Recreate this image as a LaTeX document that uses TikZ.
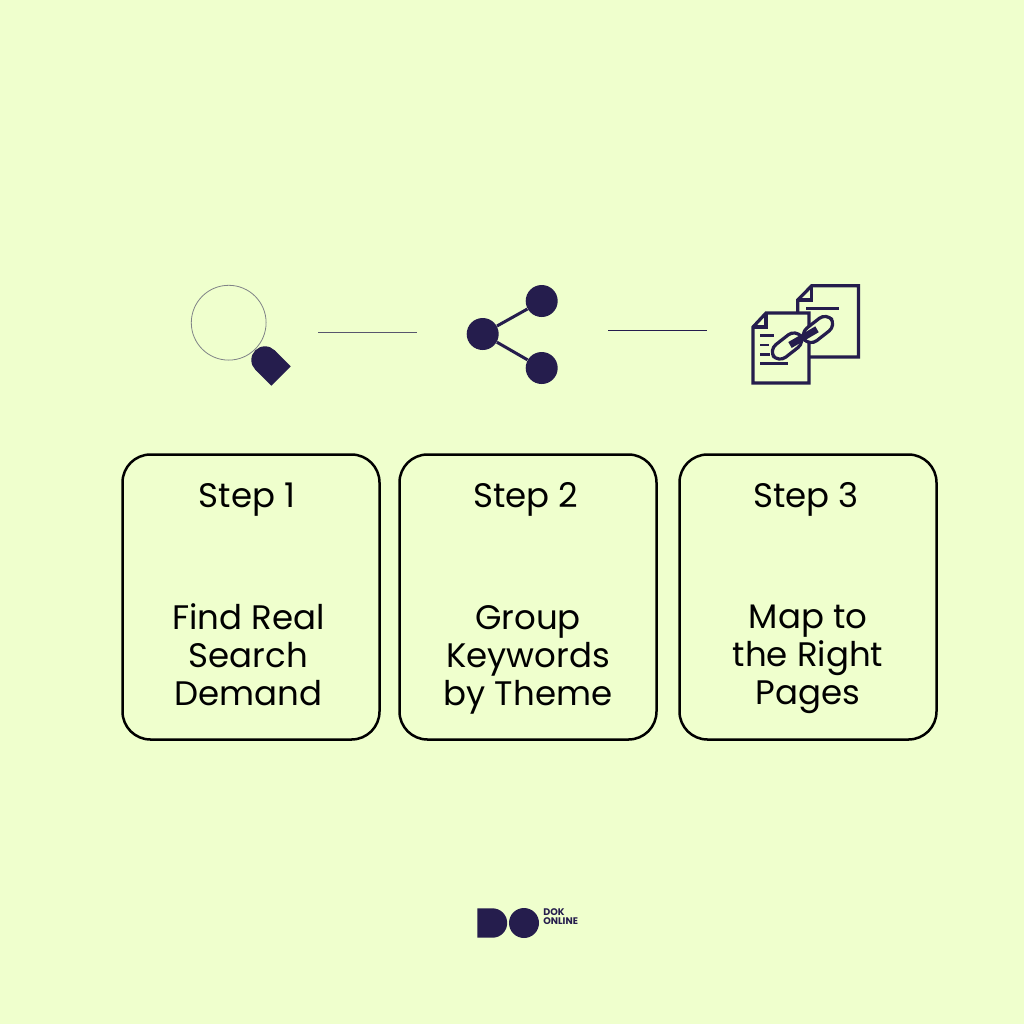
\documentclass[tikz,border=0pt]{standalone}
\usepackage{fontspec}
\setmainfont{Poppins}
\definecolor{bgc}{HTML}{EFFFCD}
\definecolor{ink}{HTML}{251D4D}
\tikzset{
  cardbox/.style={draw=black,line width=1.25pt,rounded corners=14pt,minimum width=128.5pt,minimum height=142.5pt,inner sep=0pt},
  steplabel/.style={font=\fontsize{17pt}{19pt}\selectfont,text=black,inner sep=0pt},
  cardlabel/.style={font=\fontsize{17pt}{19pt}\selectfont,text=black,align=center,inner sep=0pt},
  linkline/.style={line width=0.5pt},
  dot/.style={circle,fill=ink,minimum size=16pt,inner sep=0pt},
  edgeline/.style={draw=ink,line width=1.5pt},
  docline/.style={draw=ink,line width=1.6pt,line join=miter},
  txtline/.style={draw=ink,line width=1.4pt},
  chainlink/.style={draw=ink,fill=bgc,line width=1.6pt,rounded corners=4.6pt},
  logotext/.style={font=\fontsize{4.8pt}{3.3pt}\selectfont\bfseries,text=ink,align=left,inner sep=0pt,anchor=west}
}
\begin{document}
\begin{tikzpicture}[x=0.5pt,y=-0.5pt]
\useasboundingbox (0,0) rectangle (1024,1024);
\fill[bgc] (0,0) rectangle (1024,1024);
% magnifier
\node[circle,draw=ink!55!bgc,line width=0.4pt,minimum size=37.4pt,inner sep=0pt] (lens) at (228.7,322.7) {};
\fill[ink] (265,360) circle (6.85pt);
\fill[ink] (274.7,350.3) -- (290.7,366.3) -- (271.3,385.7) -- (255.3,369.7) -- cycle;
% connectors
\coordinate (la) at (318,332.3); \coordinate (lb) at (417,332.3);
\coordinate (lc) at (608.3,330.3); \coordinate (ld) at (707,330.3);
\draw[linkline,draw=ink!75!bgc] (la) -- (lb);
\draw[linkline,draw=ink] (lc) -- (ld);
% share
\node[dot] (s1) at (482.7,334) {};
\node[dot] (s2) at (541.7,301) {};
\node[dot] (s3) at (541.7,368) {};
\draw[edgeline] (s1) -- (s2);
\draw[edgeline] (s1) -- (s3);
% documents
\draw[docline] (811.7,285.7) -- (858.5,285.7) -- (858.5,357) -- (797.7,357) -- (797.7,300) -- cycle;
\draw[docline] (811.7,285.7) -- (811.7,300) -- (797.7,300);
\draw[txtline] (806,308.7) -- (839,308.7);
\draw[docline,fill=bgc] (766,313) -- (809,313) -- (809,383) -- (753,383) -- (753,327) -- cycle;
\draw[docline] (766,313) -- (766,327) -- (753,327);
\draw[txtline] (760,335.7) -- (774,335.7);
\draw[txtline] (760,345) -- (769,345);
\draw[txtline] (760,354.3) -- (770,354.3);
\draw[txtline] (760,363.7) -- (788,363.7);
\draw[chainlink,rotate around={38:(787,346)}] (770,338) rectangle (804,354);
\draw[chainlink,rotate around={38:(818,329.5)}] (801,321.5) rectangle (835,337.5);
\draw[draw=ink,line width=3.4pt] (790,345) -- (817,329.3);
% cards
\node[cardbox] (c1) at (251,597) {};
\node[cardbox] (c2) at (528,597) {};
\node[cardbox] (c3) at (808,597) {};
\node[steplabel] (h1) at (247,499.5) {Step 1};
\node[steplabel] (h2) at (526,499.5) {Step 2};
\node[steplabel] (h3) at (806,499.5) {Step 3};
\node[cardlabel] (t1) at (248.5,655) {Find Real\\Search\\Demand};
\node[cardlabel] (t2) at (528,659.5) {Group\\Keywords\\by Theme};
\node[cardlabel] (t3) at (808,659.5) {Map to\\the Right\\Pages};
% logo
\fill[ink] (477.3,908.3) -- (492.5,908.3) arc[start angle=90,end angle=-90,radius=7.35pt] -- (477.3,937.7) -- cycle;
\node[circle,fill=ink,minimum size=15pt,inner sep=0pt] (logoO) at (524,923) {};
\node[logotext] (logoT) at (543,917) {DOK\\ONLINE};
\end{tikzpicture}
\end{document}
